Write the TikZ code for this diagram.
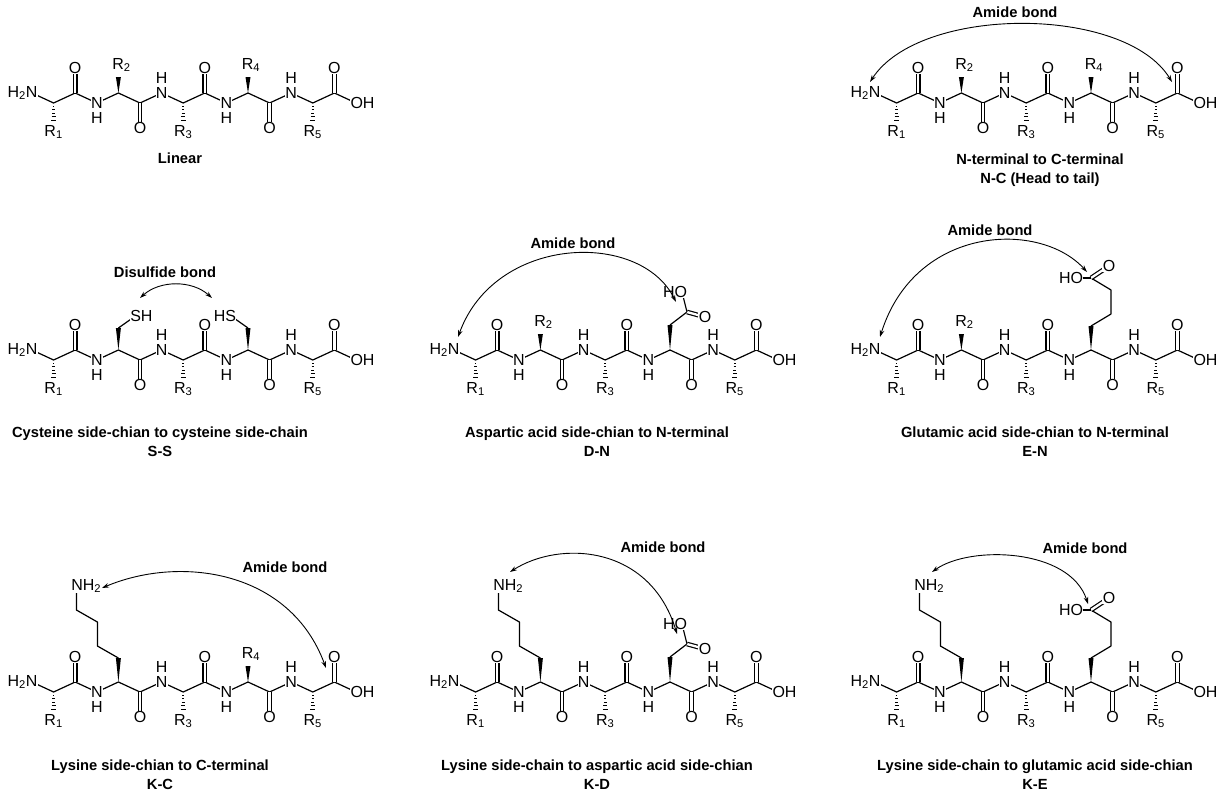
\documentclass[tikz,border=0pt]{standalone}
\usepackage{fontspec}
\setmainfont{Liberation Sans}
\usetikzlibrary{calc,arrows.meta}

\tikzset{
  bond/.style={line width=1.2pt, line join=round},
  dbond/.style={bond, double, double distance=2.3pt},
  atom/.style={fill=white, inner sep=0.3pt, font=\fontsize{16}{16}\selectfont},
  caption/.style={font=\bfseries\fontsize{14.7}{19}\selectfont, align=center},
  link/.style={line width=0.9pt, {Stealth[length=7pt,width=4.5pt]}-{Stealth[length=7pt,width=4.5pt]}},
}

% wedge and hash bonds (vertical only)
\newcommand\wedgebond[2]{\fill #1 -- ($#2+(2.5,0)$) -- ($#2+(-2.5,0)$) -- cycle;}
\newcommand\hashdown[2]{%
  \foreach \t in {0.2,0.4,0.6,0.8,1.0}{
    \draw[line width=1pt] ($(a#1)+(-0.4-2*\t,17*\t)$) -- ($(a#1)+(0.4+2*\t,17*\t)$);}
  \node[atom] at ($(a#1)+(0,29)$) {R\textsubscript{#2}};}
\newcommand\Rup[2]{%
  \wedgebond{(a#1)}{($(a#1)+(0,-16)$)}
  \node[atom] at ($(a#1)+(3,-28)$) {R\textsubscript{#2}};}

% peptide backbone, #3 = side chains
\newcommand\peptide[3]{%
\begin{scope}[shift={(#1,#2)}]
  \foreach \i in {0,...,15}{
    \pgfmathsetmacro\yy{mod(\i,2)*10}
    \coordinate (a\i) at (\i*21.6,\yy);}
  \draw[bond] (a0) \foreach \i in {1,...,15}{ -- (a\i)};
  \foreach \i in {2,8,14}{ \draw[dbond] (a\i) -- ++(0,-21); \node[atom] at ($(a\i)+(0,-25)$) {O};}
  \foreach \i in {5,11}{ \draw[dbond] (a\i) -- ++(0,21); \node[atom] at ($(a\i)+(0,25)$) {O};}
  \node[atom, anchor=east, xshift=6pt] at (a0) {H\textsubscript{2}N};
  \foreach \i in {3,9}{ \node[atom] at (a\i) {N}; \node[atom] at ($(a\i)+(0,15)$) {H};}
  \foreach \i in {6,12}{ \node[atom] at (a\i) {N}; \node[atom] at ($(a\i)+(0,-15)$) {H};}
  \node[atom, anchor=west, xshift=-6pt] at (a15) {OH};
  \hashdown{1}{1} \hashdown{7}{3} \hashdown{13}{5}
  #3
\end{scope}}

% side chains
\newcommand\cys{%
  \coordinate (sa) at ($(a4)+(0,-22)$); \wedgebond{(a4)}{(sa)}
  \draw[bond] (sa) -- ++(17,-12) node[atom, anchor=west, xshift=-6pt] {SH};
  \coordinate (sb) at ($(a10)+(0,-22)$); \wedgebond{(a10)}{(sb)}
  \draw[bond] (sb) -- ++(-17,-12) node[atom, anchor=east, xshift=6pt] {HS};}
\newcommand\asp{%
  \coordinate (cb) at ($(a10)+(0,-25)$); \wedgebond{(a10)}{(cb)}
  \coordinate (cc) at ($(cb)+(17,-13)$);
  \draw[bond] (cb) -- (cc);
  \draw[dbond] (cc) -- ++(18,5) node[atom] {O};
  \draw[bond] (cc) -- ++(-5,-20) node[atom, anchor=east, xshift=6pt] {HO};}
\newcommand\glu{%
  \coordinate (cb) at ($(a10)+(0,-24)$); \wedgebond{(a10)}{(cb)}
  \draw[bond] (cb) -- ++(20,-12) coordinate (cg) -- ++(0,-24) coordinate (cd) -- ++(-20,-12) coordinate (cc);
  \draw[dbond] (cc) -- ++(18,-12) node[atom] {O};
  \draw[bond] (cc) -- ++(-13,0) node[atom, anchor=east, xshift=6pt] {HO};}
\newcommand\lys{%
  \coordinate (cb) at ($(a4)+(0,-24)$); \wedgebond{(a4)}{(cb)}
  \draw[bond] (cb) -- ++(-21,-12) -- ++(0,-24) -- ++(-21,-12) -- ++(0,-24)
    node[atom, anchor=west, xshift=-6pt] {NH\textsubscript{2}};}

\begin{document}
\begin{tikzpicture}[x=1pt, y=-1pt]
  \useasboundingbox (0,0) rectangle (1227,798);

  % row 1
  \peptide{32}{93}{\Rup{4}{2}\Rup{10}{4}}
  \node[caption] (capL) at (180,158) {Linear};
  \peptide{875}{93}{\Rup{4}{2}\Rup{10}{4}}
  \node[caption] (capNC) at (1040,170) {N-terminal to C-terminal\\N-C (Head to tail)};
  \node[caption] (bNC) at (1015,12) {Amide bond};
  \coordinate (nc1) at (870,82);
  \coordinate (nc2) at (1172,82);
  \draw[link] (nc1) .. controls (920,5) and (1125,5) .. (nc2);

  % row 2
  \peptide{32}{350}{\cys}
  \node[caption] (capSS) at (160,442) {Cysteine side-chian to cysteine side-chain\\S-S};
  \node[caption] (bSS) at (165,272) {Disulfide bond};
  \coordinate (ss1) at (140,298);
  \coordinate (ss2) at (212,298);
  \draw[link] (ss1) .. controls (160,280) and (192,280) .. (ss2);

  \peptide{454}{350}{\Rup{4}{2}\asp}
  \node[caption] (capDN) at (597,442) {Aspartic acid side-chian to N-terminal\\D-N};
  \node[caption] (bDN) at (573,243) {Amide bond};
  \coordinate (dn1) at (458,337);
  \coordinate (dn2) at (676,302);
  \draw[link] (dn1) .. controls (495,235) and (640,230) .. (dn2);

  \peptide{875}{350}{\Rup{4}{2}\glu}
  \node[caption] (capEN) at (1035,442) {Glutamic acid side-chian to N-terminal\\E-N};
  \node[caption] (bEN) at (990,230) {Amide bond};
  \coordinate (en1) at (880,337);
  \coordinate (en2) at (1087,272);
  \draw[link] (en1) .. controls (915,225) and (1040,220) .. (en2);

  % row 3
  \peptide{32}{682}{\lys\Rup{10}{4}}
  \node[caption] (capKC) at (160,775) {Lysine side-chian to C-terminal\\K-C};
  \node[caption] (bKC) at (285,567) {Amide bond};
  \coordinate (kc1) at (102,588);
  \coordinate (kc2) at (326,668);
  \draw[link] (kc1) .. controls (180,555) and (290,570) .. (kc2);

  \peptide{454}{682}{\lys\asp}
  \node[caption] (capKD) at (597,775) {Lysine side-chain to aspartic acid side-chian\\K-D};
  \node[caption] (bKD) at (663,547) {Amide bond};
  \coordinate (kd1) at (510,572);
  \coordinate (kd2) at (677,634);
  \draw[link] (kd1) .. controls (560,540) and (650,545) .. (kd2);

  \peptide{875}{682}{\lys\glu}
  \node[caption] (capKE) at (1035,775) {Lysine side-chain to glutamic acid side-chian\\K-E};
  \node[caption] (bKE) at (1085,548) {Amide bond};
  \coordinate (ke1) at (932,572);
  \coordinate (ke2) at (1088,604);
  \draw[link] (ke1) .. controls (970,545) and (1070,548) .. (ke2);
\end{tikzpicture}
\end{document}
